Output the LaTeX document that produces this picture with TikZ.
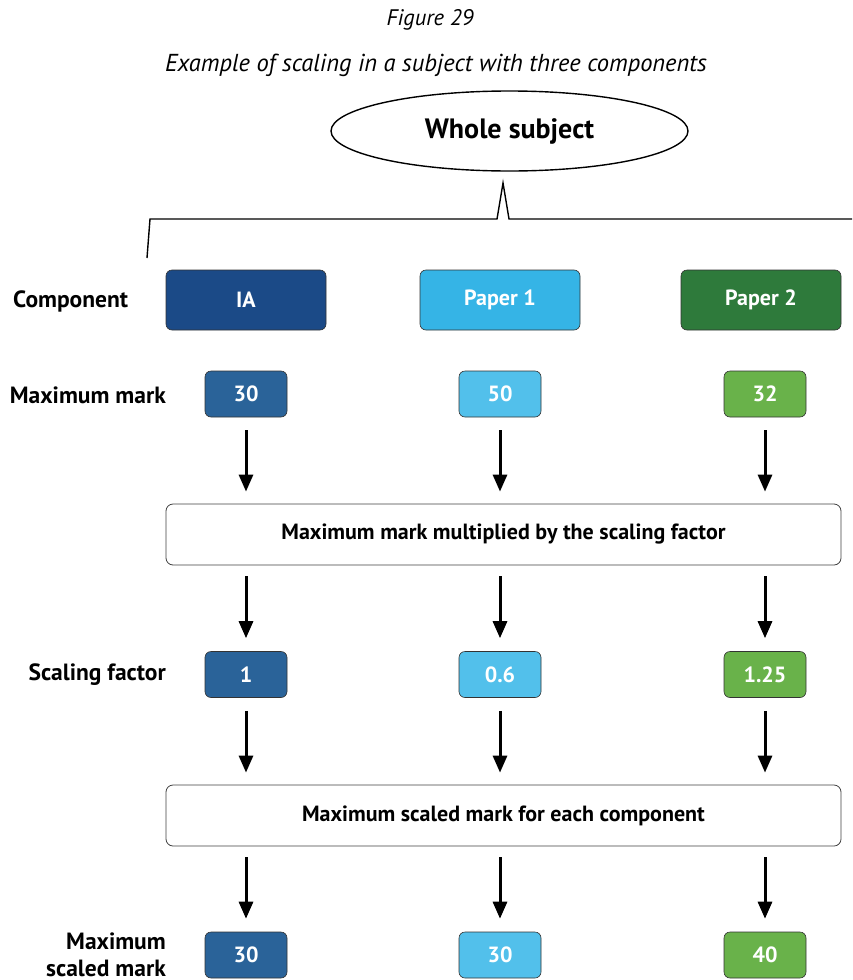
\documentclass[tikz,border=0pt]{standalone}
\usepackage{fontspec}
\setmainfont{PT Sans}
\usetikzlibrary{shapes.geometric,arrows.meta}
\definecolor{iaDark}{HTML}{1B4A87}
\definecolor{pOneDark}{HTML}{35B4E6}
\definecolor{pTwoDark}{HTML}{2E7A3B}
\definecolor{iaMid}{HTML}{2A6399}
\definecolor{pOneMid}{HTML}{52C0EB}
\definecolor{pTwoMid}{HTML}{69B24A}
\tikzset{
  boxfont/.style={font=\fontsize{22}{26}\selectfont\bfseries},
  compbox/.style={rectangle, rounded corners=6pt, draw=black!80, line width=0.6pt,
    minimum width=160pt, minimum height=60pt, text=white, boxfont},
  markbox/.style={rectangle, rounded corners=6pt, draw=black!80, line width=0.6pt,
    minimum width=82pt, minimum height=46pt, text=white, boxfont},
  widebox/.style={rectangle, rounded corners=7pt, draw=black!75, line width=0.8pt, fill=white,
    minimum width=675pt, minimum height=61pt, boxfont},
  rowlabel/.style={font=\fontsize{23.5}{27}\selectfont\bfseries, inner sep=0pt},
  flow/.style={line width=3pt, -{Triangle[length=17pt,width=14pt]}},
  brace/.style={line width=1.4pt, line join=miter},
}
\begin{document}
\begin{tikzpicture}[x=1pt,y=-1pt]
\useasboundingbox (0,0) rectangle (852,980);

% title
\node[font=\fontsize{22.5}{26}\selectfont\itshape] (fig) at (430,20) {Figure 29};
\node[font=\fontsize{24.5}{28}\selectfont\itshape] (cap) at (436,65) {Example of scaling in a subject with three components};

% whole subject and its bracket
\node[ellipse, draw, line width=1.4pt, minimum width=357pt, minimum height=80pt,
      font=\fontsize{28}{32}\selectfont\bfseries] (whole) at (509.5,131) {Whole subject};
\coordinate (bl) at (147,258);
\coordinate (br) at (852,219);
\coordinate (tip) at (503,183);
\draw[brace] (bl) -- (150,219) -- (497,219) -- (tip) -- (509,219) -- (br);

% row labels
\node[rowlabel, anchor=west] (lcomp) at (13,301) {Component};
\node[rowlabel, anchor=east] (lmax) at (166,395) {Maximum mark};
\node[rowlabel, anchor=east] (lscale) at (166,675) {Scaling factor};
\node[rowlabel, anchor=east, align=right] (lfinal) at (166,955) {Maximum\\scaled mark};

% components
\node[compbox, fill=iaDark] (cA) at (246,300) {IA};
\node[compbox, fill=pOneDark] (cB) at (500,300) {Paper 1};
\node[compbox, fill=pTwoDark] (cC) at (761,300) {Paper 2};

% maximum marks
\node[markbox, fill=iaMid] (mA) at (246,394) {30};
\node[markbox, fill=pOneMid] (mB) at (500,394) {50};
\node[markbox, fill=pTwoMid] (mC) at (765,394) {32};

% first process box
\node[widebox] (w1) at (503.5,534.5) {Maximum mark multiplied by the scaling factor};

% scaling factors
\node[markbox, fill=iaMid] (sA) at (246,674.5) {1};
\node[markbox, fill=pOneMid] (sB) at (500,674.5) {0.6};
\node[markbox, fill=pTwoMid] (sC) at (765,674.5) {1.25};

% second process box
\node[widebox] (w2) at (503.5,815.5) {Maximum scaled mark for each component};

% scaled marks
\node[markbox, fill=iaMid] (fA) at (246,955) {30};
\node[markbox, fill=pOneMid] (fB) at (500,955) {30};
\node[markbox, fill=pTwoMid] (fC) at (765,955) {40};

% arrows
\foreach \c in {A,B,C}{
  \draw[flow, shorten <=13pt, shorten >=12pt] (m\c.south) -- (m\c.south |- w1.north);
  \draw[flow, shorten <=11pt, shorten >=13pt] (s\c.north |- w1.south) -- (s\c.north);
  \draw[flow, shorten <=13pt, shorten >=12pt] (s\c.south) -- (s\c.south |- w2.north);
  \draw[flow, shorten <=11pt, shorten >=13pt] (f\c.north |- w2.south) -- (f\c.north);
}
\end{tikzpicture}
\end{document}
